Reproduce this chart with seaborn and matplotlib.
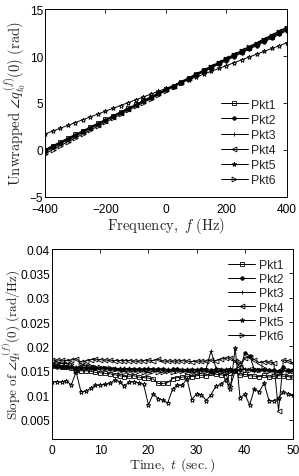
import matplotlib
matplotlib.use('Agg')
import matplotlib.pyplot as plt
import seaborn as sns
from matplotlib.ticker import FuncFormatter

freq = [-400, -375, -350, -325, -300, -275, -250, -225, -200, -175, -150, -125, -100, -75, -50, -25,
        0, 25, 50, 75, 100, 125, 150, 175, 200, 225, 250, 275, 300, 325, 350, 375, 400]

phase_pkt1 = [0.05, 0.46, 0.85, 1.27, 1.66, 2.05, 2.47, 2.86, 3.25, 3.66, 4.07, 4.46, 4.85, 5.27, 5.66, 6.05,
              6.45, 6.86, 7.26, 7.65, 8.06, 8.47, 8.85, 9.26, 9.67, 10.06, 10.45, 10.86, 11.27, 11.66, 12.05, 12.46, 12.86]
phase_pkt2 = [0.00, 0.40, 0.79, 1.19, 1.59, 1.98, 2.38, 2.78, 3.17, 3.57, 3.97, 4.36, 4.76, 5.16, 5.55, 5.95,
              6.35, 6.75, 7.14, 7.54, 7.94, 8.33, 8.73, 9.13, 9.52, 9.92, 10.32, 10.71, 11.11, 11.51, 11.90, 12.30, 12.70]
phase_pkt3 = [-0.10, 0.31, 0.71, 1.11, 1.52, 1.92, 2.33, 2.73, 3.13, 3.54, 3.94, 4.35, 4.75, 5.15, 5.56, 5.96,
              6.36, 6.77, 7.17, 7.57, 7.98, 8.38, 8.79, 9.19, 9.59, 10.00, 10.40, 10.81, 11.21, 11.61, 12.02, 12.42, 12.82]
phase_pkt4 = [-0.20, 0.22, 0.63, 1.05, 1.46, 1.88, 2.29, 2.71, 3.12, 3.54, 3.95, 4.37, 4.78, 5.20, 5.61, 6.03,
              6.44, 6.86, 7.27, 7.69, 8.10, 8.52, 8.93, 9.35, 9.76, 10.18, 10.59, 11.01, 11.42, 11.84, 12.25, 12.67, 13.08]
phase_pkt5 = [1.70, 2.00, 2.31, 2.61, 2.91, 3.22, 3.52, 3.82, 4.13, 4.43, 4.73, 5.04, 5.34, 5.64, 5.95, 6.25,
              6.55, 6.86, 7.16, 7.46, 7.77, 8.07, 8.37, 8.68, 8.98, 9.28, 9.59, 9.89, 10.19, 10.50, 10.80, 11.10, 11.41]
phase_pkt6 = [-0.40, 0.02, 0.44, 0.86, 1.28, 1.69, 2.11, 2.53, 2.95, 3.37, 3.79, 4.21, 4.63, 5.04, 5.46, 5.88,
              6.30, 6.72, 7.14, 7.56, 7.98, 8.39, 8.81, 9.23, 9.65, 10.07, 10.49, 10.91, 11.33, 11.74, 12.16, 12.58, 13.00]

time_s = [0, 1, 2, 3, 4, 5, 6, 7, 8, 9, 10, 11, 12, 13, 14, 15, 16, 17, 18, 19, 20, 21, 22, 23, 24, 25,
          26, 27, 28, 29, 30, 31, 32, 33, 34, 35, 36, 37, 38, 39, 40, 41, 42, 43, 44, 45, 46, 47, 48, 49, 50]

slope_pkt1 = [0.0160, 0.0159, 0.0158, 0.0157, 0.0155, 0.0152, 0.0150, 0.0150, 0.0149, 0.0147, 0.0146, 0.0145, 0.0144,
              0.0142, 0.0140, 0.0138, 0.0139, 0.0140, 0.0137, 0.0136, 0.0135, 0.0133, 0.0124, 0.0124, 0.0126, 0.0134,
              0.0136, 0.0137, 0.0139, 0.0138, 0.0140, 0.0141, 0.0140, 0.0145, 0.0143, 0.0142, 0.0140, 0.0146, 0.0150,
              0.0141, 0.0143, 0.0140, 0.0139, 0.0138, 0.0141, 0.0137, 0.0139, 0.0140, 0.0139, 0.0138, 0.0137]
slope_pkt2 = [0.0159, 0.0158, 0.0158, 0.0157, 0.0157, 0.0156, 0.0156, 0.0156, 0.0155, 0.0155, 0.0155, 0.0155, 0.0154,
              0.0154, 0.0154, 0.0154, 0.0154, 0.0153, 0.0153, 0.0153, 0.0153, 0.0153, 0.0153, 0.0153, 0.0152, 0.0153,
              0.0153, 0.0152, 0.0152, 0.0152, 0.0152, 0.0153, 0.0152, 0.0152, 0.0152, 0.0151, 0.0151, 0.0152, 0.0152,
              0.0151, 0.0187, 0.0181, 0.0152, 0.0151, 0.0151, 0.0151, 0.0151, 0.0150, 0.0157, 0.0152, 0.0151]
slope_pkt3 = [0.0162, 0.0161, 0.0160, 0.0160, 0.0159, 0.0158, 0.0158, 0.0157, 0.0157, 0.0157, 0.0156, 0.0156, 0.0156,
              0.0155, 0.0155, 0.0155, 0.0155, 0.0154, 0.0154, 0.0154, 0.0155, 0.0154, 0.0154, 0.0154, 0.0153, 0.0153,
              0.0154, 0.0153, 0.0153, 0.0154, 0.0153, 0.0153, 0.0155, 0.0191, 0.0156, 0.0154, 0.0153, 0.0155, 0.0150,
              0.0152, 0.0154, 0.0153, 0.0150, 0.0152, 0.0153, 0.0151, 0.0152, 0.0150, 0.0151, 0.0150, 0.0149]
slope_pkt4 = [0.0172, 0.0172, 0.0172, 0.0171, 0.0172, 0.0175, 0.0168, 0.0170, 0.0173, 0.0174, 0.0173, 0.0172, 0.0172,
              0.0171, 0.0171, 0.0171, 0.0171, 0.0170, 0.0170, 0.0171, 0.0172, 0.0171, 0.0174, 0.0170, 0.0170, 0.0170,
              0.0170, 0.0171, 0.0170, 0.0169, 0.0170, 0.0170, 0.0170, 0.0172, 0.0171, 0.0174, 0.0176, 0.0177, 0.0170,
              0.0158, 0.0176, 0.0178, 0.0173, 0.0167, 0.0169, 0.0168, 0.0167, 0.0068, 0.0172, 0.0171, 0.0166]
slope_pkt5 = [0.0127, 0.0128, 0.0127, 0.0130, 0.0121, 0.0148, 0.0107, 0.0108, 0.0114, 0.0120, 0.0121, 0.0122, 0.0124,
              0.0131, 0.0128, 0.0119, 0.0127, 0.0128, 0.0125, 0.0122, 0.0080, 0.0103, 0.0093, 0.0090, 0.0084, 0.0112,
              0.0121, 0.0120, 0.0134, 0.0091, 0.0103, 0.0101, 0.0089, 0.0101, 0.0119, 0.0122, 0.0131, 0.0113, 0.0197,
              0.0095, 0.0102, 0.0080, 0.0113, 0.0107, 0.0125, 0.0089, 0.0088, 0.0095, 0.0107, 0.0103, 0.0101]
slope_pkt6 = [0.0166, 0.0166, 0.0165, 0.0165, 0.0164, 0.0150, 0.0162, 0.0161, 0.0160, 0.0158, 0.0157, 0.0156, 0.0155,
              0.0154, 0.0150, 0.0148, 0.0150, 0.0149, 0.0150, 0.0148, 0.0146, 0.0150, 0.0148, 0.0147, 0.0149, 0.0148,
              0.0150, 0.0149, 0.0150, 0.0145, 0.0148, 0.0150, 0.0149, 0.0146, 0.0149, 0.0148, 0.0147, 0.0118, 0.0150,
              0.0168, 0.0152, 0.0151, 0.0154, 0.0152, 0.0155, 0.0150, 0.0148, 0.0146, 0.0152, 0.0147, 0.0149]

labels = ['Pkt1', 'Pkt2', 'Pkt3', 'Pkt4', 'Pkt5', 'Pkt6']
markers = ['s', 'o', '+', '<', '*', '>']
filled = [False, True, True, False, False, False]

sns.set_style('white')
plt.rcParams['font.family'] = ['Liberation Sans', 'DejaVu Sans']
plt.rcParams['mathtext.fontset'] = 'cm'

fig = plt.figure(figsize=(2.99, 4.77), dpi=100)
ax1 = fig.add_axes([0.1505, 0.585, 0.809, 0.394])
ax2 = fig.add_axes([0.174, 0.0776, 0.806, 0.398])


def draw(ax, x, series):
    for y, lab, m, f in zip(series, labels, markers, filled):
        ms = 2.5 if m == 'o' else 3.5
        sns.lineplot(x=x, y=y, ax=ax, color='k', lw=0.7, marker=m, markersize=ms,
                     markerfacecolor='k' if f else 'none', markeredgecolor='k',
                     markeredgewidth=0.6, label=lab, sort=False)


draw(ax1, freq, [phase_pkt1, phase_pkt2, phase_pkt3, phase_pkt4, phase_pkt5, phase_pkt6])
draw(ax2, time_s, [slope_pkt1, slope_pkt2, slope_pkt3, slope_pkt4, slope_pkt5, slope_pkt6])

ax1.set_xlim(-400, 400)
ax1.set_ylim(-5, 15)
ax1.set_xticks([-400, -200, 0, 200, 400])
ax1.set_yticks([-5, 0, 5, 10, 15])
ax1.set_xlabel(r'$\mathrm{Frequency,}\ f\ \mathrm{(Hz)}$', fontsize=10.5, labelpad=0)
ax1.set_ylabel(r'$\mathrm{Unwrapped}\ \angle q_{t_0}^{(f)}(0)\ \mathrm{(rad)}$', fontsize=10.5)
ax1.yaxis.set_label_coords(-0.072, 0.5)

ax2.set_xlim(0, 50)
ax2.set_ylim(0.001, 0.04)
ax2.set_xticks([0, 10, 20, 30, 40, 50])
ax2.set_yticks([0.005, 0.01, 0.015, 0.02, 0.025, 0.03, 0.035, 0.04])
ax2.yaxis.set_major_formatter(FuncFormatter(lambda v, p: f'{v:g}'))
ax2.set_xlabel(r'$\mathrm{Time,}\ t\ \mathrm{(sec.)}$', fontsize=10, labelpad=-0.5)
ax2.set_ylabel(r'$\mathrm{Slope\ of}\ \angle q_{t}^{(f)}(0)\ \mathrm{(rad/Hz)}$', fontsize=9.5)
ax2.yaxis.set_label_coords(-0.124, 0.5)

for ax in (ax1, ax2):
    for s in ax.spines.values():
        s.set_color('k')
        s.set_linewidth(0.7)
    ax.tick_params(direction='in', top=True, right=True, length=3, width=0.6,
                   labelsize=8.6, colors='k')
    ax.tick_params(axis='y', pad=1.5)
ax1.tick_params(axis='x', pad=4.5)
ax2.tick_params(axis='x', pad=3.5)

ax1.legend(loc='lower right', frameon=False, fontsize=8.8, handlelength=2.2,
           handletextpad=0.3, labelspacing=0.25, borderaxespad=0.5)
ax2.legend(loc='upper right', frameon=False, fontsize=8.8, handlelength=2.2,
           handletextpad=0.3, labelspacing=0.18, borderaxespad=0.4)

fig.savefig('out.png', dpi=100)
